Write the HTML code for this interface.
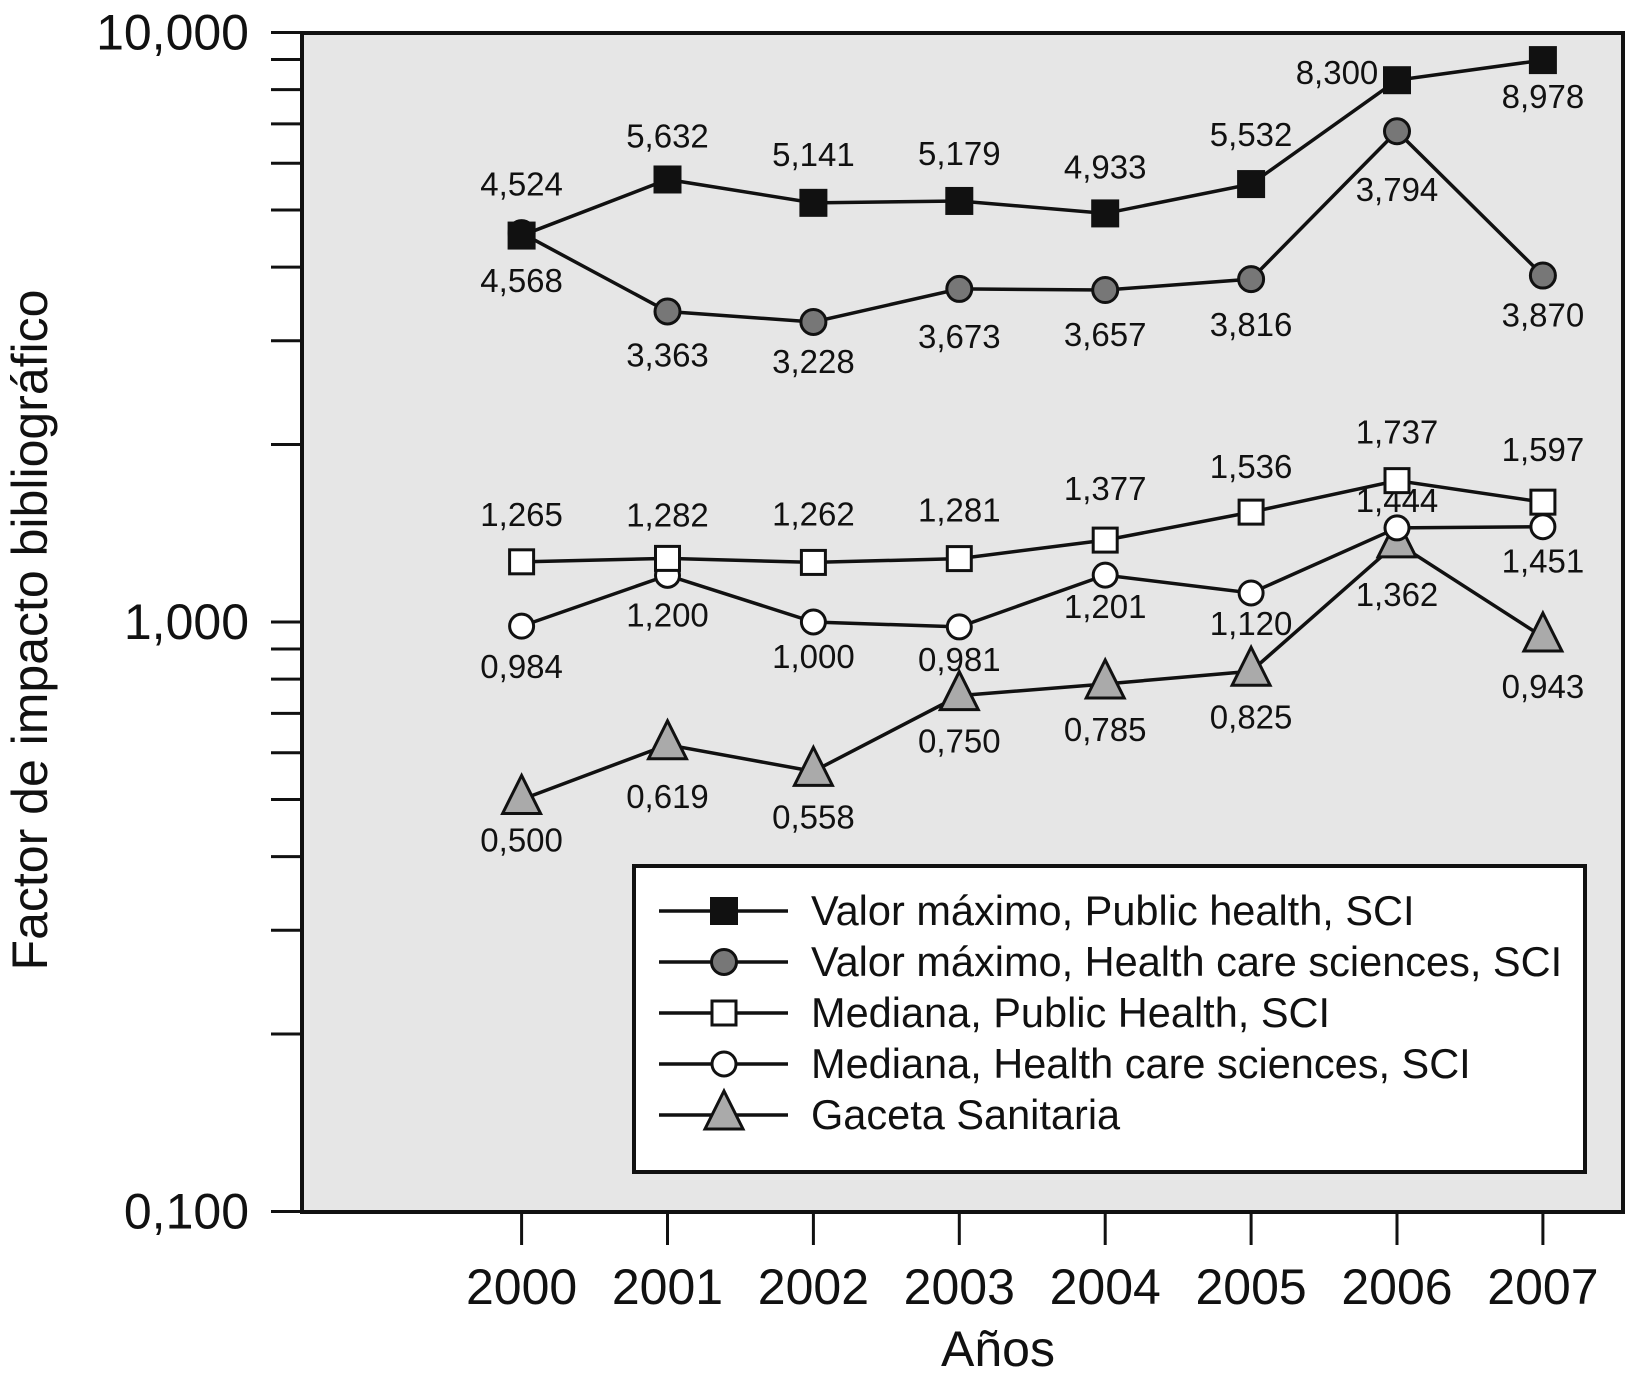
<!DOCTYPE html>
<html><head><meta charset="utf-8"><style>
html,body{margin:0;padding:0;background:#fff}
svg{display:block;font-family:"Liberation Sans",Arial,sans-serif}
</style></head><body>
<svg id="chart" width="1626" height="1384" viewBox="0 0 1626 1384">
<rect x="302" y="33" width="1321" height="1179" fill="#e6e6e6" stroke="#111" stroke-width="4"/>
<g id="grid"></g>
<g id="series"></g>
<text x="998" y="1366" font-size="50" text-anchor="middle" fill="#111">Años</text>
<text transform="translate(47,630) rotate(-90)" font-size="50" text-anchor="middle" fill="#111">Factor de impacto bibliográfico</text>
<g id="legend">
<rect x="634" y="866" width="951" height="306" fill="#fff" stroke="#111" stroke-width="4"/>
</g>
</svg>
<script>
const years = ["2000","2001","2002","2003","2004","2005","2006","2007"];
const yTickLabels = ["10,000","1,000","0,100"];
const yTickValues = [10,1,0.1];
const maxPH = [4.524,5.632,5.141,5.179,4.933,5.532,8.300,8.978];
const maxPHLabels = ["4,524","5,632","5,141","5,179","4,933","5,532","8,300","8,978"];
const maxHC = [4.568,3.363,3.228,3.673,3.657,3.816,6.8,3.870];
const maxHCLabels = ["4,568","3,363","3,228","3,673","3,657","3,816","3,794","3,870"];
const medPH = [1.265,1.282,1.262,1.281,1.377,1.536,1.737,1.597];
const medPHLabels = ["1,265","1,282","1,262","1,281","1,377","1,536","1,737","1,597"];
const medHC = [0.984,1.200,1.000,0.981,1.201,1.120,1.444,1.451];
const medHCLabels = ["0,984","1,200","1,000","0,981","1,201","1,120","1,444","1,451"];
const gaceta = [0.500,0.619,0.558,0.750,0.785,0.825,1.362,0.943];
const gacetaLabels = ["0,500","0,619","0,558","0,750","0,785","0,825","1,362","0,943"];
const legendLabels = ["Valor máximo, Public health, SCI","Valor máximo, Health care sciences, SCI","Mediana, Public Health, SCI","Mediana, Health care sciences, SCI","Gaceta Sanitaria"];

const NS="http://www.w3.org/2000/svg";
const X0=521.6, XS=145.9, Y1=622, DEC=589.5;
function xPos(i){return X0+i*XS;}
function yPos(v){return Y1-Math.log10(v)*DEC;}
function mk(tag,attrs,parent){const e=document.createElementNS(NS,tag);for(const k in attrs)e.setAttribute(k,attrs[k]);parent.appendChild(e);return e;}
const grid=document.getElementById('grid');
const ser=document.getElementById('series');
const leg=document.getElementById('legend');

for(let d=-1;d<1;d++){for(let m=1;m<=10;m++){const v=m*Math.pow(10,d);const y=yPos(v);
 const t=mk('line',{x1:271,x2:302,y1:y,y2:y,stroke:'#111','stroke-width':3},grid);
 
 }}
yTickValues.forEach((v,i)=>{const t=mk('text',{x:249,y:yPos(v)+17,'font-size':50,'text-anchor':'end',fill:'#111'},grid);t.textContent=yTickLabels[i];
 
 });
years.forEach((yr,i)=>{const x=xPos(i);
 const l=mk('line',{x1:x,x2:x,y1:1212,y2:1245,stroke:'#111','stroke-width':3},grid);
 
 
 const t=mk('text',{x:x,y:1304,'font-size':50,'text-anchor':'middle',fill:'#111'},grid);t.textContent=yr;
 
 });

function marker(type,x,y,parent){
 if(type==='sq')return mk('rect',{x:x-14,y:y-14,width:28,height:28,fill:'#111'},parent);
 if(type==='gc')return mk('circle',{cx:x,cy:y,r:12.5,fill:'#777',stroke:'#111','stroke-width':3},parent);
 if(type==='os')return mk('rect',{x:x-12,y:y-12,width:24,height:24,fill:'#fff',stroke:'#111','stroke-width':3},parent);
 if(type==='oc')return mk('circle',{cx:x,cy:y,r:12,fill:'#fff',stroke:'#111','stroke-width':3},parent);
 return mk('polygon',{points:`${x},${y-24} ${x+19},${y+14} ${x-19},${y+14}`,fill:'#aaa',stroke:'#111','stroke-width':3},parent);
}
// label baseline offsets (px) relative to each point
const seriesDefs=[
 {name:'max-public-health',vals:maxPH,labs:maxPHLabels,type:'sq',off:[-40,-32,-37,-36,-35,-38,0,48],dx:[0,0,0,0,0,0,-60,0]},
 {name:'max-health-care',vals:maxHC,labs:maxHCLabels,type:'gc',off:[59,55,51,59,56,57,70,51],dx:[0,0,0,0,0,0,0,0]},
 {name:'median-public-health',vals:medPH,labs:medPHLabels,type:'os',off:[-36,-32,-37,-37,-40,-34,-37,-41],dx:[0,0,0,0,0,0,0,0]},
 {name:'median-health-care',vals:medHC,labs:medHCLabels,type:'oc',off:[52,51,46,44,43,42,-16,46],dx:[0,0,0,0,0,0,0,0]},
 {name:'gaceta-sanitaria',vals:gaceta,labs:gacetaLabels,type:'tr',off:[52,63,57,57,57,57,63,61],dx:[0,0,0,0,0,0,0,0]}
];
seriesDefs.forEach(s=>{
 const pts=s.vals.map((v,i)=>xPos(i)+','+yPos(v)).join(' ');
 const pl=mk('polyline',{points:pts,fill:'none',stroke:'#111','stroke-width':3.5},ser);
 
 
});
[...seriesDefs].reverse().forEach(s=>{
 s.vals.forEach((v,i)=>{const x=xPos(i),y=yPos(v);
  const m=marker(s.type,x,y,ser);
  
  
  const t=mk('text',{x:x+s.dx[i],y:y+s.off[i]+(s.dx[i]?4:0),'font-size':33,'text-anchor':'middle',fill:'#111'},ser);
  t.textContent=s.labs[i];
  
  
 });
});
seriesDefs.forEach((s,i)=>{const y=911+i*51;
 const l=mk('line',{x1:659,x2:788,y1:y,y2:y,stroke:'#111','stroke-width':3.5},leg);
 
 
 const m=marker(s.type,724,y,leg);
 
 
 const t=mk('text',{x:811,y:y+14,'font-size':41.5,fill:'#111'},leg);t.textContent=legendLabels[i];
 
 
});
</script>
</body></html>
